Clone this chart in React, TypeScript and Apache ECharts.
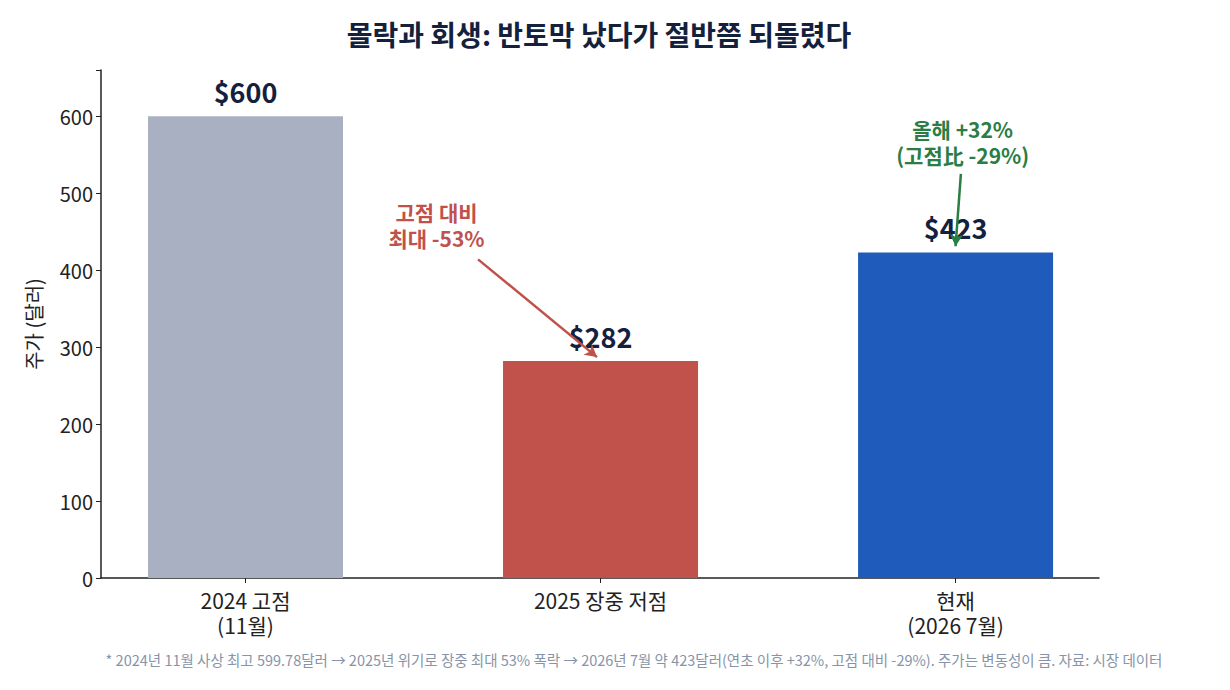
import React, { useEffect, useRef } from "react";
import * as echarts from "echarts";

const categories = ["2024 고점\n(11월)", "2025 장중 저점", "현재\n(2026 7월)"];
const prices = [600, 282, 423];
const barColors = ["#a8b0c2", "#c0514b", "#1f5bba"];
const yTicks = [0, 100, 200, 300, 400, 500, 600];

const titleText = "몰락과 회생: 반토막 났다가 절반쯤 되돌렸다";
const yAxisName = "주가 (달러)";
const footnote =
  "* 2024년 11월 사상 최고 599.78달러 → 2025년 위기로 장중 최대 53% 폭락 → 2026년 7월 약 423달러(연초 이후 +32%, 고점 대비 -29%). 주가는 변동성이 큼. 자료: 시장 데이터";

// annotations: [x, y, text]
const dropNote: [number, number, string] = [0.538, 459, "고점 대비\n최대 -53%"];
const reboundNote: [number, number, string] = [2.02, 567, "올해 +32%\n(고점比 -29%)"];
const dropArrow = [[0.655, 414], [0.99, 287]];
const reboundArrow = [[2.015, 525], [2.0, 431]];

const FONT = "'Noto Sans CJK KR', 'Noto Sans', sans-serif";
const NAVY = "#14213d";
const RED = "#c0514b";
const GREEN = "#2a7d45";

export default function App() {
  const ref = useRef<HTMLDivElement>(null);
  useEffect(() => {
    if (!ref.current) return;
    const chart = echarts.init(ref.current, undefined, { renderer: "svg" });
    chart.setOption({
      animation: false,
      textStyle: { fontFamily: FONT },
      title: [
        {
          text: titleText,
          left: 594,
          textAlign: "center",
          top: 15,
          textStyle: { fontFamily: FONT, fontSize: 28, fontWeight: "bold", color: NAVY },
        },
        {
          text: footnote,
          left: 629,
          textAlign: "center",
          top: 647,
          textStyle: { fontFamily: FONT, fontSize: 14.5, fontWeight: "normal", color: "#8794a8" },
        },
      ],
      grid: { left: 101, right: 131, top: 70, bottom: 112 },
      xAxis: {
        type: "value",
        min: -0.407,
        max: 2.404,
        splitLine: { show: false },
        axisLine: { show: true, onZero: false, lineStyle: { color: "#222", width: 1.5 } },
        axisTick: { show: true, customValues: [0, 1, 2], length: 5, lineStyle: { color: "#222" } },
        axisLabel: {
          customValues: [0, 1, 2],
          formatter: (v: number) => categories[Math.round(v)] ?? "",
          fontSize: 21,
          lineHeight: 25,
          color: "#222",
          margin: 9,
          fontFamily: FONT,
        },
      },
      yAxis: {
        type: "value",
        min: 0,
        max: 660,
        interval: 100,
        name: yAxisName,
        nameLocation: "middle",
        nameGap: 58,
        nameTextStyle: { fontSize: 20, color: "#222", fontFamily: FONT },
        splitLine: { show: false },
        axisLine: { show: true, onZero: false, lineStyle: { color: "#222", width: 1.5 } },
        axisTick: { show: true, length: 5, lineStyle: { color: "#222" } },
        axisLabel: {
          fontSize: 20,
          color: "#222",
          margin: 8,
          fontFamily: FONT,
          formatter: (v: number) => (yTicks.includes(v) ? String(v) : ""),
        },
      },
      series: [
        {
          type: "bar",
          barWidth: 195,
          data: prices.map((p, i) => ({
            value: [i, p],
            itemStyle: { color: barColors[i] },
          })),
          label: {
            show: true,
            position: "top",
            distance: 11,
            formatter: (p: any) => "$" + p.value[1],
            fontSize: 27,
            fontWeight: "bold",
            color: NAVY,
            fontFamily: FONT,
          },
        },
        {
          type: "scatter",
          symbolSize: 0,
          silent: true,
          z: 5,
          itemStyle: { opacity: 1 },
          data: [
            {
              value: [dropNote[0], dropNote[1]],
              label: { color: RED },
              name: dropNote[2],
            },
            {
              value: [reboundNote[0], reboundNote[1]],
              label: { color: GREEN },
              name: reboundNote[2],
            },
          ],
          label: {
            show: true,
            position: "inside",
            formatter: (p: any) => p.name,
            fontSize: 21,
            fontWeight: "bold",
            lineHeight: 26,
            fontFamily: FONT,
          },
          markLine: {
            silent: true,
            symbol: ["none", "arrow"],
            symbolSize: [10, 12],
            label: { show: false },
            data: [
              [
                { coord: dropArrow[0], lineStyle: { color: RED, width: 2.5, type: "solid", opacity: 1 } },
                { coord: dropArrow[1] },
              ],
              [
                { coord: reboundArrow[0], lineStyle: { color: GREEN, width: 2.5, type: "solid", opacity: 1 } },
                { coord: reboundArrow[1] },
              ],
            ],
          },
        },
      ],
    });
    return () => chart.dispose();
  }, []);
  return <div ref={ref} style={{ width: 1230, height: 690, margin: -8 }} />;
}
